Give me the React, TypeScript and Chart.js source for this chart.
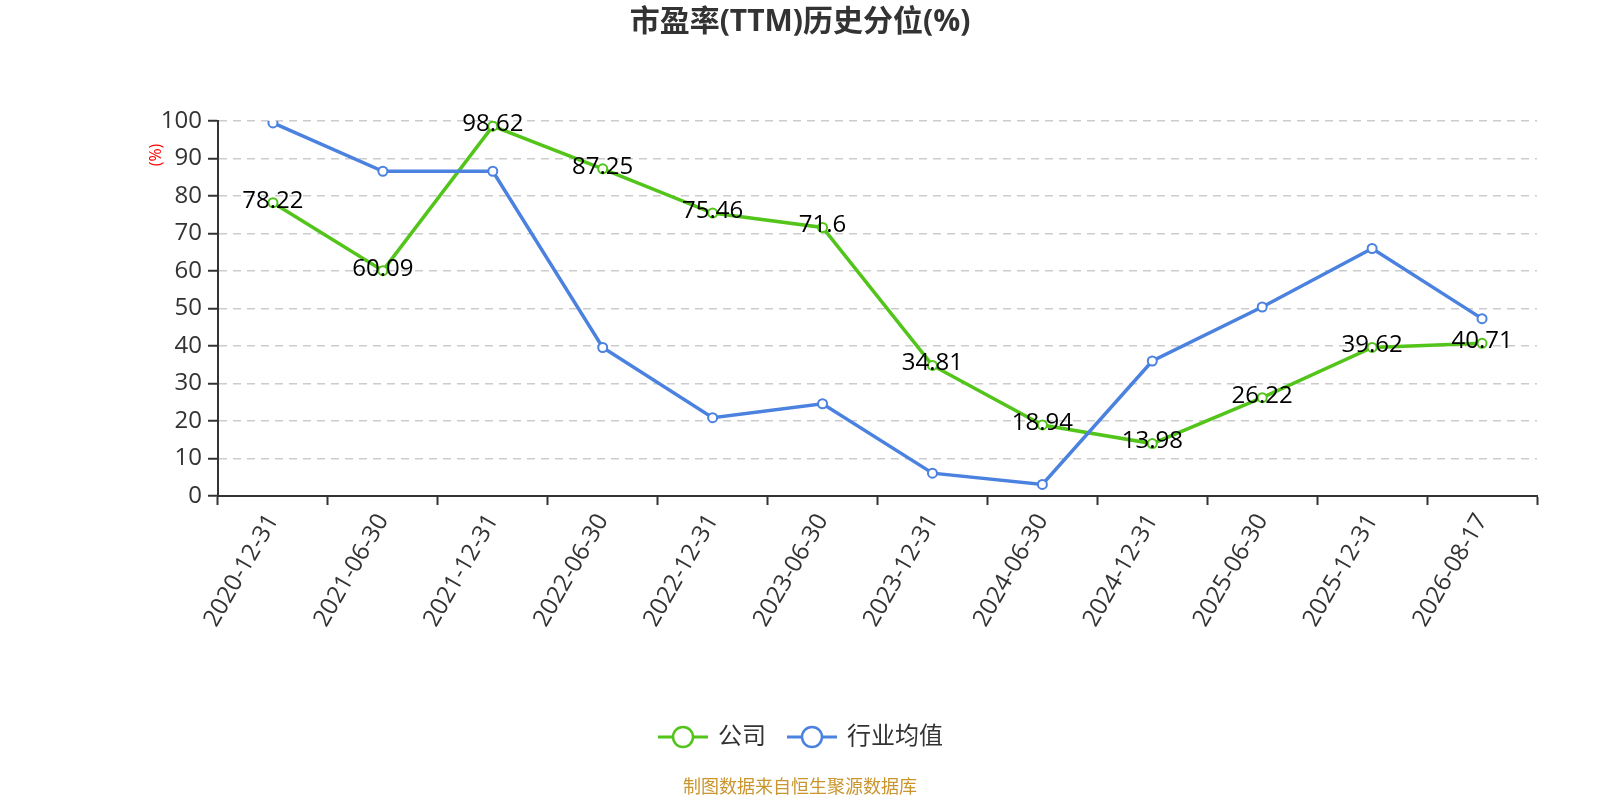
import { useEffect, useRef } from "react";
import { Chart, registerables, Plugin } from "chart.js";

Chart.register(...registerables);

const FONT = "'Open Sans', 'Noto Sans CJK SC', sans-serif";

const chartTitle = "市盈率(TTM)历史分位(%)";
const sourceNote = "制图数据来自恒生聚源数据库";
const yAxisName = "(%)";

const dates = [
  "2020-12-31",
  "2021-06-30",
  "2021-12-31",
  "2022-06-30",
  "2022-12-31",
  "2023-06-30",
  "2023-12-31",
  "2024-06-30",
  "2024-12-31",
  "2025-06-30",
  "2025-12-31",
  "2026-08-17",
];

const companyName = "公司";
const companyValues = [78.22, 60.09, 98.62, 87.25, 75.46, 71.6, 34.81, 18.94, 13.98, 26.22, 39.62, 40.71];

const industryName = "行业均值";
const industryValues = [99.5, 86.6, 86.6, 39.6, 20.9, 24.6, 6.1, 3.1, 36.0, 50.4, 66.0, 47.3];

const GREEN = "#52c41a";
const BLUE = "#4b82e0";

// title, y axis name, legend, footer and value labels
const decorations: Plugin<"line"> = {
  id: "decorations",
  afterDatasetsDraw(chart) {
    const ctx = chart.ctx;
    ctx.save();

    // value labels on company series
    const meta = chart.getDatasetMeta(0);
    ctx.font = `24px ${FONT}`;
    ctx.fillStyle = "#000";
    ctx.textAlign = "center";
    ctx.textBaseline = "middle";
    meta.data.forEach((pt, i) => {
      ctx.fillText(String(companyValues[i]), pt.x, pt.y - 2);
    });

    // title
    ctx.font = `bold 30px ${FONT}`;
    ctx.fillStyle = "#333";
    ctx.fillText(chartTitle, 800, 22);

    // y axis name
    ctx.save();
    ctx.translate(156, 155);
    ctx.rotate(-Math.PI / 2);
    ctx.font = `16px ${FONT}`;
    ctx.fillStyle = "#ff0000";
    ctx.fillText(yAxisName, 0, 0);
    ctx.restore();

    // legend
    const items = [
      { name: companyName, color: GREEN, x: 658 },
      { name: industryName, color: BLUE, x: 787 },
    ];
    const ly = 737;
    items.forEach((it) => {
      ctx.strokeStyle = it.color;
      ctx.lineWidth = 3;
      ctx.beginPath();
      ctx.moveTo(it.x, ly);
      ctx.lineTo(it.x + 50, ly);
      ctx.stroke();
      ctx.beginPath();
      ctx.arc(it.x + 25, ly, 10, 0, Math.PI * 2);
      ctx.fillStyle = "#fff";
      ctx.fill();
      ctx.lineWidth = 2.5;
      ctx.stroke();
      ctx.font = `24px ${FONT}`;
      ctx.fillStyle = "#333";
      ctx.textAlign = "left";
      ctx.fillText(it.name, it.x + 60, ly);
    });

    // footer
    ctx.textAlign = "center";
    ctx.font = `18px ${FONT}`;
    ctx.fillStyle = "#c9952c";
    ctx.fillText(sourceNote, 800, 788);

    ctx.restore();
  },
};

const App = () => {
  const canvasRef = useRef<HTMLCanvasElement>(null);
  const chartRef = useRef<Chart | null>(null);

  useEffect(() => {
    if (!canvasRef.current) return;
    const ctx = canvasRef.current.getContext("2d");
    if (!ctx) return;

    chartRef.current = new Chart(ctx, {
      type: "line",
      data: {
        labels: dates,
        datasets: [
          {
            label: companyName,
            data: companyValues,
            borderColor: GREEN,
            backgroundColor: "#fff",
            borderWidth: 3.5,
            pointRadius: 4.5,
            pointBorderWidth: 2,
            pointBackgroundColor: "#fff",
            pointBorderColor: GREEN,
            tension: 0,
            order: 1,
          },
          {
            label: industryName,
            data: industryValues,
            borderColor: BLUE,
            backgroundColor: "#fff",
            borderWidth: 3.5,
            pointRadius: 4.5,
            pointBorderWidth: 2,
            pointBackgroundColor: "#fff",
            pointBorderColor: BLUE,
            tension: 0,
            order: 0,
          },
        ],
      },
      options: {
        responsive: false,
        animation: false,
        devicePixelRatio: 1,
        layout: { padding: { top: 121, left: 148, right: 63, bottom: 154 } },
        plugins: {
          legend: { display: false },
          title: { display: false },
          tooltip: { enabled: false },
        },
        scales: {
          x: {
            type: "category",
            offset: true,
            afterFit: (scale) => {
              scale.height = 150;
            },
            grid: {
              offset: true,
              drawOnChartArea: false,
              drawTicks: true,
              tickLength: 9,
              tickColor: "#333",
              tickWidth: 2,
            },
            border: { display: true, color: "#333", width: 2 },
            ticks: {
              autoSkip: false,
              minRotation: 60,
              maxRotation: 60,
              padding: 4,
              color: "#333",
              font: { size: 24, family: FONT },
            },
          },
          y: {
            min: 0,
            max: 100,
            afterFit: (scale) => {
              scale.width = 70;
            },
            grid: {
              color: "#cccccc",
              lineWidth: 1.5,
              tickColor: "#333",
              tickLength: 10,
              tickWidth: 2,
            },
            border: { display: true, color: "#333", width: 2, dash: [8, 6] },
            ticks: {
              stepSize: 10,
              padding: 6,
              color: "#333",
              font: { size: 24, family: FONT },
            },
          },
        },
      },
      plugins: [decorations],
    });

    return () => {
      if (chartRef.current) {
        chartRef.current.destroy();
        chartRef.current = null;
      }
    };
  }, []);

  return (
    <div style={{ position: "absolute", left: 0, top: 0, width: 1600, height: 800, background: "#fff" }}>
      <canvas ref={canvasRef} width={1600} height={800} />
    </div>
  );
};

export default App;
